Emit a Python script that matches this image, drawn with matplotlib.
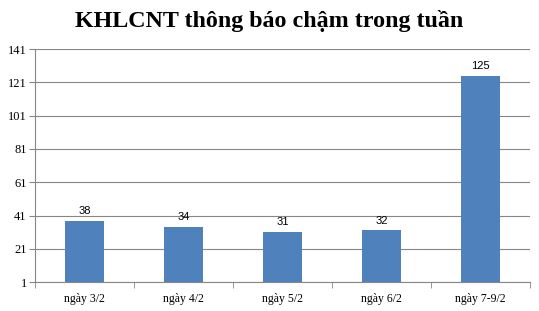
import matplotlib.pyplot as plt

categories = ['ngày 3/2', 'ngày 4/2', 'ngày 5/2', 'ngày 6/2', 'ngày 7-9/2']
values = [38, 34, 31, 32, 125]
yticks = [1, 21, 41, 61, 81, 101, 121, 141]

fig = plt.figure(figsize=(5.39, 3.11), dpi=100)
ax = fig.add_axes([0.065, 0.093, 0.918, 0.749])

x = range(len(categories))
bars = ax.bar(x, values, width=0.4, color='#4F81BD', zorder=3)

# nhãn giá trị trên cột
for xi, v in zip(x, values):
    ax.text(xi, v + 3, str(v), ha='center', va='bottom', fontsize=8,
            family='Liberation Sans', color='black')

ax.set_ylim(1, 141)
ax.set_xlim(-0.5, len(categories) - 0.5)
ax.set_yticks(yticks)
ax.set_yticklabels([str(t) for t in yticks], family='Liberation Serif', fontsize=9)
ax.set_xticks(list(x))
ax.set_xticklabels(categories, family='Liberation Serif', fontsize=8.5)

# vạch chia giữa các nhóm
ax.set_xticks([i - 0.5 for i in range(len(categories) + 1)], minor=True)
ax.tick_params(axis='x', which='major', length=0, pad=8)
ax.tick_params(axis='x', which='minor', length=4, color='#868686')
ax.tick_params(axis='y', length=4, color='#868686', pad=2)

ax.grid(axis='y', color='#868686', linewidth=0.8, zorder=0)
for s in ['top', 'right']:
    ax.spines[s].set_visible(False)
ax.spines['left'].set_color('#868686')
ax.spines['bottom'].set_color('#868686')

fig.text(0.5, 0.932, 'KHLCNT thông báo chậm trong tuần', ha='center', va='center',
         family='Liberation Serif', fontweight='bold', fontsize=17.3)

fig.savefig('out.png', dpi=100)
